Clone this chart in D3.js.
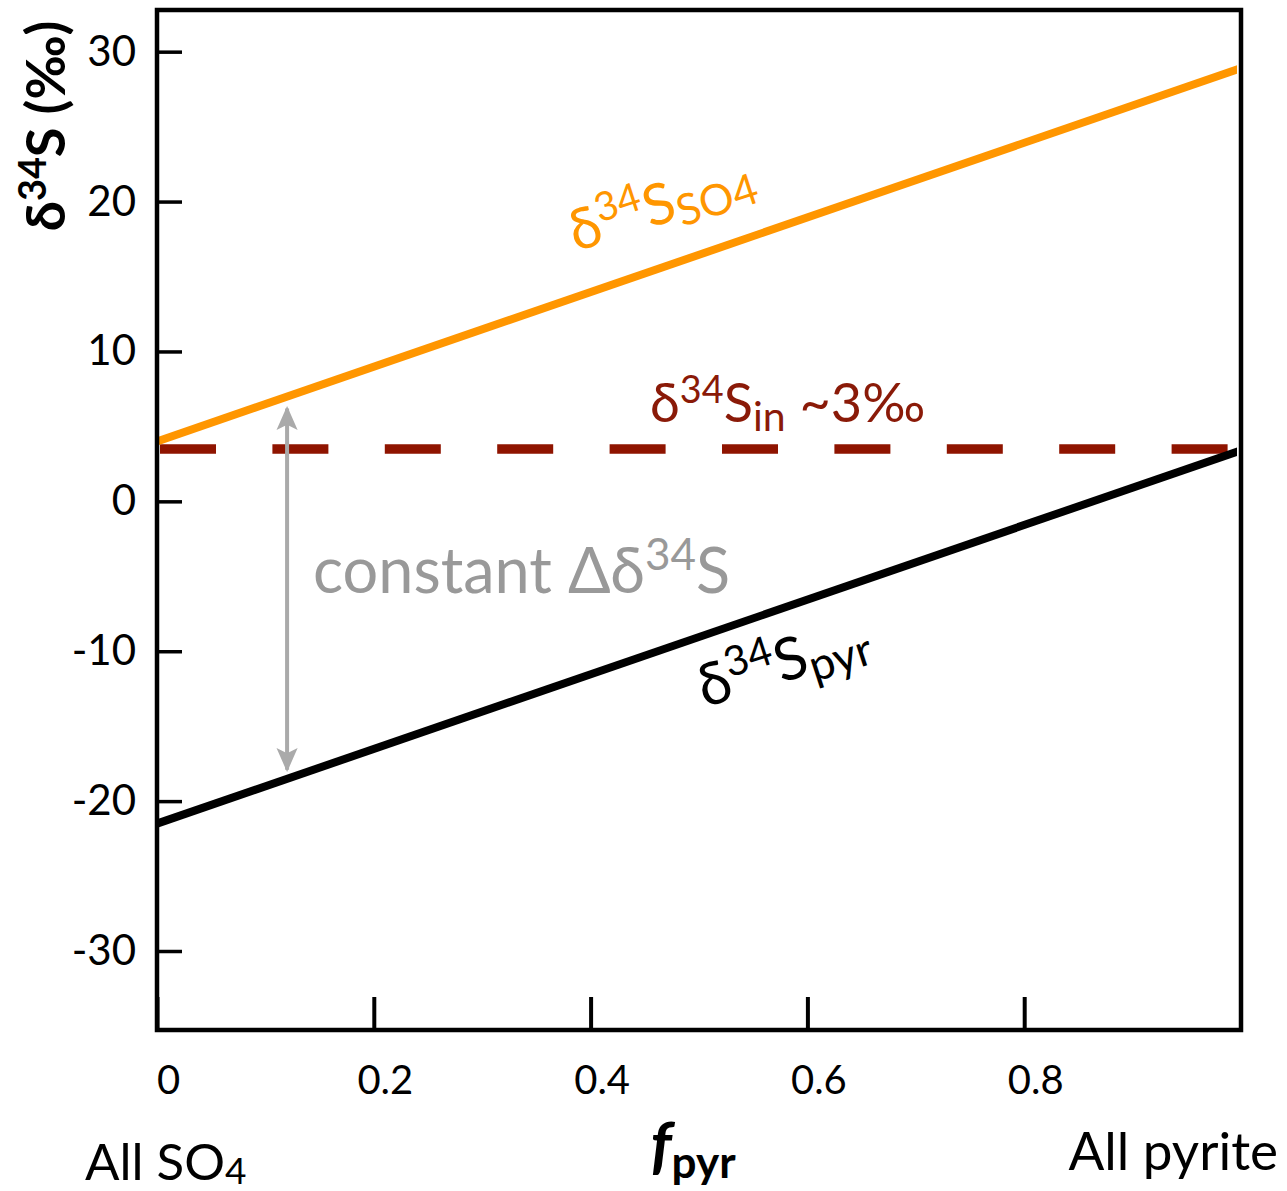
<!DOCTYPE html>
<html>
<head>
<meta charset="utf-8">
<script src="https://cdn.jsdelivr.net/npm/d3@7"></script>
<style>
  html, body { margin: 0; padding: 0; background: #fff; }
  svg { display: block; font-family: Lato, "Open Sans", sans-serif; }
</style>
</head>
<body>
<svg id="chart" width="1287" height="1191"></svg>
<script>
// Sulfur isotope mass balance: sulfate vs pyrite burial fraction
const fPyr = [0, 1];                 // fraction of sulfur buried as pyrite
const d34S_SO4 = [4.0, 28.9];        // δ34S of seawater sulfate (‰)
const d34S_pyr = [-21.5, 3.4];       // δ34S of pyrite (‰)
const d34S_in = 3.5;                 // δ34S of input sulfur (‰)
const arrowF = 0.12;                 // position of the Δδ34S arrow
const arrowEnds = [6.2, -17.9];      // arrow top and bottom (‰)
const xTicks = [0, 0.2, 0.4, 0.6, 0.8];
const yTicks = [30, 20, 10, 0, -10, -20, -30];

const svg = d3.select("#chart");

const x = d3.scaleLinear().domain([0, 1]).range([157, 1241]);
const y = d3.scaleLinear().domain([-35.27, 32.78]).range([1030, 10]);

const plotL = x(0), plotR = x(1), plotT = y(32.78), plotB = y(-35.27);

svg.append("defs").append("clipPath").attr("id", "plotClip")
  .append("rect")
  .attr("x", plotL).attr("y", plotT)
  .attr("width", plotR - plotL - 4).attr("height", plotB - plotT);

svg.select("defs").append("marker")
  .attr("id", "arrowHead")
  .attr("viewBox", "0 0 10 10")
  .attr("refX", 9).attr("refY", 5)
  .attr("markerUnits", "userSpaceOnUse")
  .attr("markerWidth", 24).attr("markerHeight", 24)
  .attr("orient", "auto-start-reverse")
  .append("path")
  .attr("d", "M0,0.6 L10,5 L0,9.4 L2.2,5 Z")
  .attr("fill", "#aaaaaa");

const plot = svg.append("g").attr("clip-path", "url(#plotClip)");

// input sulfur (dashed)
plot.append("line")
  .attr("x1", x(fPyr[0])).attr("x2", x(fPyr[1]))
  .attr("y1", y(d34S_in)).attr("y2", y(d34S_in))
  .attr("stroke", "#8f1400")
  .attr("stroke-width", 9.5)
  .attr("stroke-dasharray", "56,56.4")
  .attr("stroke-dashoffset", -3);

const line = d3.line().x(d => x(d[0])).y(d => y(d[1]));

plot.append("path")
  .datum(d3.zip(fPyr, d34S_SO4))
  .attr("d", line)
  .attr("fill", "none")
  .attr("stroke", "#ff9600")
  .attr("stroke-width", 8);

plot.append("path")
  .datum(d3.zip(fPyr, d34S_pyr))
  .attr("d", line)
  .attr("fill", "none")
  .attr("stroke", "#000")
  .attr("stroke-width", 8);

// constant offset arrow
svg.append("line")
  .attr("x1", x(arrowF)).attr("x2", x(arrowF))
  .attr("y1", y(arrowEnds[0])).attr("y2", y(arrowEnds[1]))
  .attr("stroke", "#aaaaaa")
  .attr("stroke-width", 4)
  .attr("marker-start", "url(#arrowHead)")
  .attr("marker-end", "url(#arrowHead)");

// axes
const yAxis = d3.axisLeft(y)
  .tickValues(yTicks)
  .tickFormat(d => String(d))
  .tickSizeInner(-25)
  .tickSizeOuter(0)
  .tickPadding(21);

const gy = svg.append("g").attr("transform", `translate(${plotL},0)`).call(yAxis);
gy.select(".domain").remove();
gy.selectAll(".tick line").attr("stroke", "#000").attr("stroke-width", 3.5);
gy.selectAll(".tick text")
  .attr("font-size", 42)
  .attr("font-family", "Lato, sans-serif")
  .attr("fill", "#000");

const xAxis = d3.axisBottom(x)
  .tickValues(xTicks)
  .tickFormat(d => String(d))
  .tickSizeInner(-33)
  .tickSizeOuter(0)
  .tickPadding(36);

const gx = svg.append("g").attr("transform", `translate(0,${plotB})`).call(xAxis);
gx.select(".domain").remove();
gx.selectAll(".tick line").attr("stroke", "#000").attr("stroke-width", 4);
gx.selectAll(".tick text")
  .attr("font-size", 40)
  .attr("font-family", "Lato, sans-serif")
  .attr("dx", 11)
  .attr("fill", "#000");

// frame
svg.append("rect")
  .attr("x", plotL).attr("y", plotT)
  .attr("width", plotR - plotL).attr("height", plotB - plotT)
  .attr("fill", "none")
  .attr("stroke", "#000")
  .attr("stroke-width", 4.5);

// helper: δ34S with superscript and optional subscript
function isoLabel(sel, base, sub, size) {
  sel.append("tspan").text("δ");
  sel.append("tspan").text("34").attr("font-size", size * 0.7).attr("dy", -size * 0.36);
  sel.append("tspan").text(base).attr("dy", size * 0.36);
  if (sub) sel.append("tspan").text(sub).attr("font-size", size * 0.76).attr("dy", size * 0.16);
}

// y-axis title
const yt = svg.append("text")
  .attr("transform", "translate(65,126) rotate(-90)")
  .attr("text-anchor", "middle")
  .attr("font-size", 54)
  .attr("font-weight", "bold")
  .attr("fill", "#000");
isoLabel(yt, "S (‰)", null, 54);

// x-axis title
const xt = svg.append("text")
  .attr("x", 693).attr("y", 1168)
  .attr("text-anchor", "middle")
  .attr("font-weight", "bold")
  .attr("fill", "#000");
xt.append("tspan").text("f").attr("font-size", 64).attr("font-style", "italic");
xt.append("tspan").text("pyr").attr("font-size", 44).attr("dy", 10);

svg.append("text")
  .attr("x", 85).attr("y", 1180)
  .attr("font-size", 51)
  .attr("fill", "#000")
  .call(t => {
    t.append("tspan").text("All SO");
    t.append("tspan").text("4").attr("font-size", 37).attr("dy", 4);
  });

svg.append("text")
  .attr("x", 1278).attr("y", 1170)
  .attr("text-anchor", "end")
  .attr("font-size", 53)
  .attr("fill", "#000")
  .text("All pyrite");

// series labels
const lSO4 = svg.append("text")
  .attr("transform", "translate(576,252) rotate(-18)")
  .attr("font-size", 57)
  .attr("fill", "#ff9600");
isoLabel(lSO4, "S", "SO4", 57);

const lPyr = svg.append("text")
  .attr("transform", "translate(705,708) rotate(-18)")
  .attr("font-size", 59)
  .attr("fill", "#000");
isoLabel(lPyr, "S", "pyr", 59);

const lIn = svg.append("text")
  .attr("x", 650).attr("y", 422)
  .attr("font-size", 54)
  .attr("fill", "#8a1a08");
isoLabel(lIn, "S", "in", 54);
lIn.append("tspan").text(" ~3‰").attr("dy", -54 * 0.16);

const lDelta = svg.append("text")
  .attr("x", 313).attr("y", 593)
  .attr("font-size", 63)
  .attr("fill", "#999999");
lDelta.append("tspan").text("constant Δδ");
lDelta.append("tspan").text("34").attr("font-size", 44).attr("dy", -23);
lDelta.append("tspan").text("S").attr("dy", 23);
</script>
</body>
</html>
